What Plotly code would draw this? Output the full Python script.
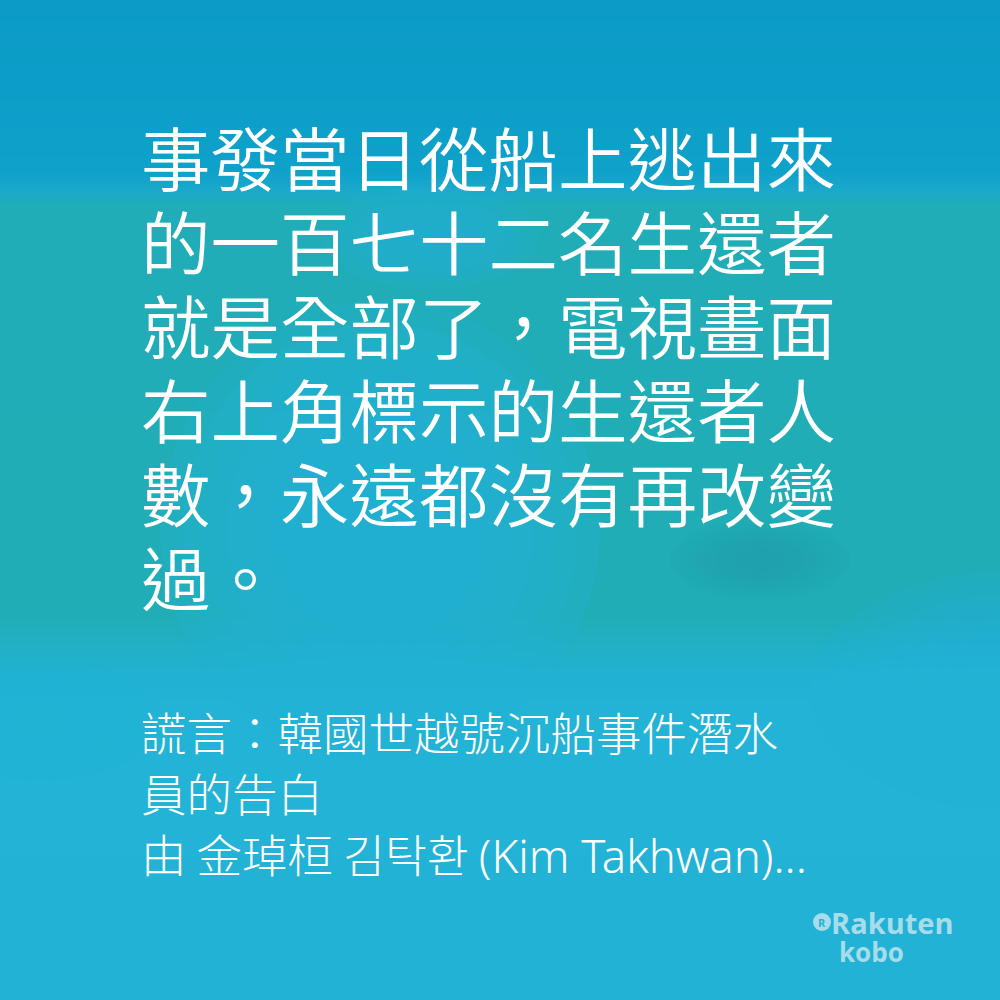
import plotly.graph_objects as go

# ==========================================
# TEXT CONTENT
# ==========================================

quote_lines = [
    "事發當日從船上逃出來",
    "的一百七十二名生還者",
    "就是全部了，電視畫面",
    "右上角標示的生還者人",
    "數，永遠都沒有再改變",
    "過。",
]

book_lines = [
    "謊言：韓國世越號沉船事件潛水",
    "員的告白",
    "由 金琸桓 김탁환 <span style='font-family:Noto Sans'>(Kim Takhwan)...</span>",
]

logo_top = "Rakuten"
logo_bottom = "kobo"

# ==========================================
# HELPERS
# ==========================================

def hex_to_rgb(h):
    h = h.lstrip("#")
    return tuple(int(h[i:i + 2], 16) for i in (0, 2, 4))


def mix(c1, c2, t):
    a = hex_to_rgb(c1)
    b = hex_to_rgb(c2)
    r = [round(a[k] + (b[k] - a[k]) * t) for k in range(3)]
    return "rgb(%d,%d,%d)" % tuple(r)


def color_at(y, stops):
    for (y0, c0), (y1, c1) in zip(stops, stops[1:]):
        if y0 <= y <= y1:
            return mix(c0, c1, (y - y0) / (y1 - y0))
    return stops[-1][1]


# ==========================================
# FIGURE
# ==========================================

fig = go.Figure()

# vertical colour bands of the blurred photo
band_stops = [
    (0, "#0b9bc6"),
    (172, "#0ea1ca"),
    (190, "#1aa9cb"),
    (206, "#20adb7"),
    (615, "#21adb6"),
    (675, "#21b2d2"),
    (715, "#22b3d6"),
    (1000, "#21b2d6"),
]

step = 4
for y in range(0, 1000, step):
    fig.add_shape(
        type="rect",
        x0=0, x1=1000, y0=y, y1=y + step + 1,
        xref="x", yref="y",
        fillcolor=color_at(y + step / 2, band_stops),
        line=dict(width=0),
        layer="below",
    )

# soft blobs: (cx, cy, rx, ry, colour, opacity per layer)
blobs = [
    (380, 530, 220, 230, "#21b2d6", 0.26),
    (430, 235, 110, 55, "#22b2d4", 0.18),
    (760, 560, 90, 40, "#1ea2ae", 0.16),
    (1010, 690, 200, 120, "#22b3d6", 0.18),
    (40, 720, 120, 60, "#22b3d6", 0.16),
]

for cx, cy, rx, ry, color, op in blobs:
    for k in range(8):
        s = 1 - k * 0.1
        fig.add_shape(
            type="circle",
            x0=cx - rx * s, x1=cx + rx * s,
            y0=cy - ry * s, y1=cy + ry * s,
            xref="x", yref="y",
            fillcolor=color,
            opacity=op,
            line=dict(width=0),
            layer="below",
        )

# ==========================================
# QUOTE
# ==========================================

for i, line in enumerate(quote_lines):
    fig.add_annotation(
        x=139, y=155 + 84 * i,
        xref="x", yref="y",
        text=line,
        showarrow=False,
        xanchor="left", yanchor="middle",
        font=dict(family="Noto Sans CJK TC", size=69.5, color="white", weight=350),
    )

# ==========================================
# BOOK TITLE / AUTHOR
# ==========================================

for i, line in enumerate(book_lines):
    fig.add_annotation(
        x=139, y=731 + 61 * i,
        xref="x", yref="y",
        text=line,
        showarrow=False,
        xanchor="left", yanchor="middle",
        font=dict(family="Noto Sans CJK TC", size=45.5, color="white", weight=300),
    )

# ==========================================
# LOGO
# ==========================================

logo_color = "#a8dcea"

fig.add_shape(
    type="circle",
    x0=813, y0=913, x1=831, y1=931,
    xref="x", yref="y",
    fillcolor=logo_color,
    line=dict(width=0),
)

fig.add_annotation(
    x=822, y=922, xref="x", yref="y",
    text="<b>R</b>", showarrow=False,
    font=dict(family="Open Sans", size=11, color="#22b3d6"),
)

fig.add_annotation(
    x=829, y=922, xref="x", yref="y",
    text=logo_top, showarrow=False,
    xanchor="left", yanchor="middle",
    font=dict(family="Open Sans", size=29, color=logo_color, weight=700),
)

fig.add_annotation(
    x=837, y=952, xref="x", yref="y",
    text=logo_bottom, showarrow=False,
    xanchor="left", yanchor="middle",
    font=dict(family="Open Sans", size=26, color=logo_color, weight=700),
)

# ==========================================
# LAYOUT
# ==========================================

fig.update_layout(
    width=1000,
    height=1000,
    margin=dict(l=0, r=0, t=0, b=0),
    paper_bgcolor="#22b3d6",
    plot_bgcolor="#22b3d6",
    showlegend=False,
    xaxis=dict(range=[0, 1000], visible=False, fixedrange=True),
    yaxis=dict(range=[1000, 0], visible=False, fixedrange=True),
)

fig.write_html(
    "out.html",
    config=dict(displayModeBar=False),
    post_script="document.body.style.margin='0';",
)
